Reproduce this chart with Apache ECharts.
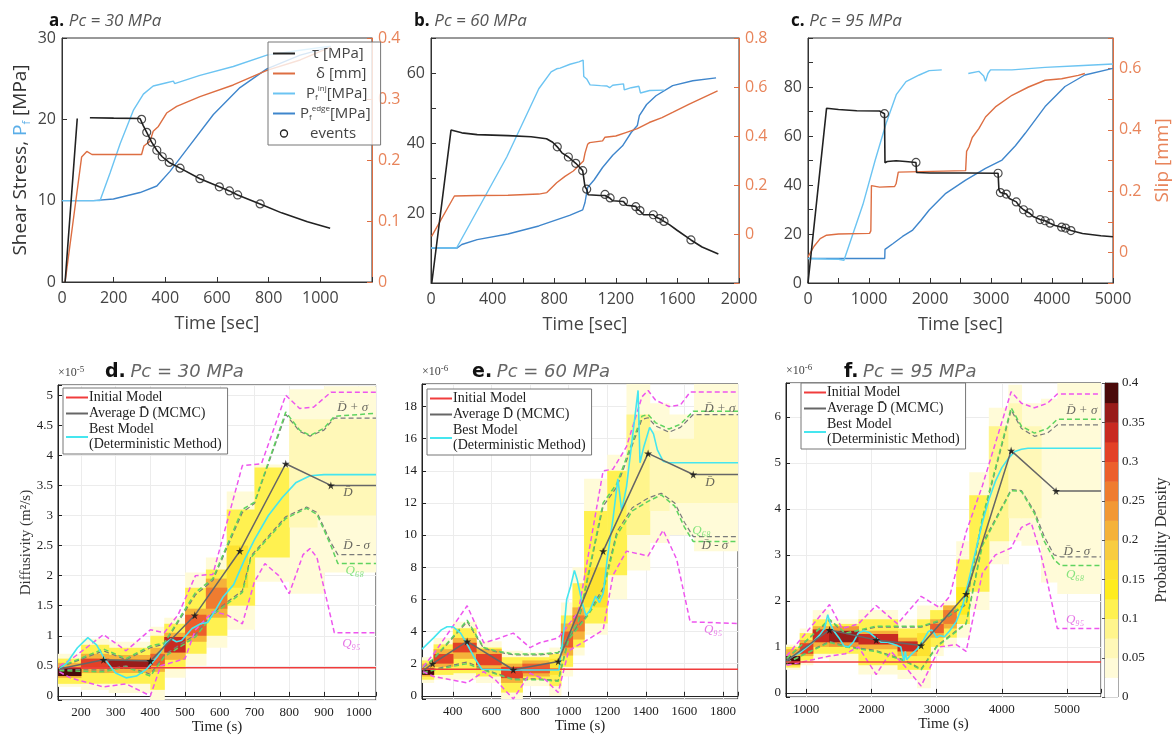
<!DOCTYPE html>
<html><head><meta charset="utf-8">
<script src="https://cdn.jsdelivr.net/npm/echarts@6/dist/echarts.min.js"></script>
<style>html,body{margin:0;padding:0;background:#fff}#c{width:1173px;height:736px}</style>
</head><body><div id="c"></div>
<script>
// ================= DATA =================
// --- panel a (Pc = 30 MPa) ---
const tauA   = [[12,0],[59,20.1],[80,'-'],[108,20.2],[200,20.15],[302,20.1],[308,20.0],[315,19.2],[328,18.4],[347,17.2],[367,16.2],[388,15.4],[415,14.7],[457,14.0],[534,12.7],[609,11.7],[648,11.2],[680,10.7],[767,9.6],[850,8.5],[950,7.4],[1038,6.6]];
const evA    = [[308,20.0],[328,18.4],[347,17.2],[367,16.2],[388,15.4],[415,14.7],[457,14.0],[534,12.7],[609,11.7],[648,11.2],[680,10.7],[767,9.6]];
const slipA  = [[12,0],[76,0.205],[96,0.214],[116,0.209],[308,0.209],[317,0.223],[341,0.231],[353,0.247],[373,0.255],[405,0.277],[444,0.288],[534,0.304],[663,0.323],[793,0.347],[922,0.364],[1040,0.385]];
const pinjA  = [[0,10],[147,10],[186,13.4],[225,17.0],[276,21.1],[315,23.1],[353,24.1],[405,24.5],[431,24.7],[436,24.4],[534,25.4],[663,26.5],[793,27.9],[922,28.5],[1040,29.0]];
const pedgeA = [[0,10],[121,10],[199,10.2],[302,11.0],[367,11.8],[418,13.6],[483,16.3],[586,20.6],[689,23.9],[793,26.2],[922,27.9],[1040,28.9]];
// --- panel b (Pc = 60 MPa) ---
const tauB   = [[5,0],[130,43.7],[200,42.9],[300,42.4],[500,42.1],[650,41.8],[750,41.2],[790,40.2],[820,38.9],[850,37.2],[892,36.0],[940,34.2],[985,32.1],[995,31.8],[1000,27.5],[1011,26.8],[1020,25.2],[1100,25.0],[1130,25.0],[1140,24.6],[1163,24.2],[1180,23.5],[1250,23.3],[1270,22.2],[1330,21.9],[1340,21.0],[1357,20.6],[1380,19.5],[1444,19.5],[1460,18.8],[1483,18.4],[1513,17.6],[1550,16.6],[1600,15.0],[1688,12.3],[1760,10.3],[1866,8.3]];
const evB    = [[820,38.9],[892,36.0],[940,34.2],[985,32.1],[1011,26.8],[1130,25.3],[1163,24.3],[1250,23.3],[1330,21.8],[1357,20.7],[1444,19.5],[1483,18.4],[1513,17.6],[1688,12.3]];
const slipB  = [[4,-0.01],[152,0.155],[300,0.157],[500,0.158],[700,0.163],[752,0.169],[816,0.209],[870,0.235],[924,0.257],[990,0.298],[1000,0.33],[1017,0.366],[1030,0.373],[1114,0.38],[1130,0.395],[1200,0.4],[1265,0.414],[1340,0.43],[1417,0.455],[1500,0.475],[1569,0.496],[1677,0.53],[1861,0.584]];
const pinjB  = [[0,10],[166,10],[492,36],[700,55.5],[780,60.3],[816,61.2],[838,61.4],[903,62.5],[960,63.2],[988,63.7],[992,59],[1011,58.3],[1033,56.6],[1100,56.4],[1141,56.3],[1160,55.8],[1180,56.5],[1250,56.9],[1255,55.2],[1300,55.8],[1350,56.2],[1360,54.3],[1420,55.0],[1515,55.1]];
const pedgeB = [[0,10],[170,10],[200,11],[300,12.4],[500,14.0],[700,16.3],[900,19.3],[985,20.9],[1000,23],[1017,27.3],[1060,29.5],[1114,33],[1180,36.5],[1244,39.2],[1300,43],[1340,45],[1353,47.8],[1400,51],[1461,53.5],[1569,56.4],[1700,57.8],[1851,58.6]];
// --- panel c (Pc = 95 MPa) ---
const tauC   = [[0,0],[304,71.3],[500,70.8],[800,70.3],[1172,70.2],[1254,69.1],[1262,49.1],[1300,49.6],[1444,49.9],[1600,49.6],[1770,49.2],[1780,45.1],[2000,44.9],[2600,44.9],[3072,44.8],[3116,44.8],[3130,38],[3154,36.9],[3252,36.3],[3300,34.5],[3415,33.1],[3460,31.5],[3534,29.9],[3626,28.6],[3700,27],[3805,25.9],[3887,25.4],[3968,24.4],[4050,23.5],[4158,22.8],[4223,22.4],[4310,21.4],[4500,20.2],[4800,19.3],[4999,18.9]];
const evC    = [[1254,69.1],[1770,49.2],[3116,44.8],[3154,36.9],[3252,36.3],[3415,33.1],[3534,29.9],[3626,28.6],[3805,25.9],[3887,25.4],[3968,24.4],[4158,22.8],[4223,22.4],[4310,21.4]];
const slipC  = [[0,-0.015],[100,0.02],[200,0.045],[304,0.056],[500,0.06],[1009,0.062],[1030,0.07],[1040,0.218],[1172,0.213],[1420,0.215],[1444,0.224],[1470,0.225],[1480,0.262],[2584,0.267],[2600,0.33],[2640,0.345],[2693,0.375],[2801,0.404],[2910,0.442],[3072,0.475],[3344,0.513],[3615,0.54],[3887,0.562],[4158,0.567],[4430,0.578],[4538,0.584]];
const pinjC  = [[0,10],[300,9.8],[500,9.7],[590,9.3],[602,10.1],[900,32],[1100,50],[1281,65.2],[1450,77],[1607,82.2],[1824,84.9],[1987,86.7],[2193,87],[2200,'-'],[2628,85.5],[2801,86.4],[2880,84.5],[2910,82.3],[2950,85.5],[2992,87],[3344,87],[3887,88],[4430,88.7],[4999,89.4]];
const pedgeC = [[0,10],[1258,10],[1262,13.7],[1390,16],[1550,19],[1716,21.6],[1850,25.5],[1987,29.8],[2259,36.6],[2584,42],[2910,46.8],[3181,50.2],[3400,56],[3561,61.1],[3887,72],[4213,80.2],[4538,84.9],[4999,87.6]];

// --- panel d (x1e-5 m^2/s) ---
const initD = [[134,0.47],[1050,0.47]];
const avgD  = [[140,0.45],[265,0.6],[400,0.58],[528,1.34],[658,2.41],[790,3.86],[920,3.5],[1050,3.5]];
const bestD = [[138,0.45],[160,0.55],[190,0.8],[220,0.97],[245,0.85],[270,0.6],[300,0.38],[330,0.3],[360,0.33],[390,0.45],[420,0.65],[445,0.88],[460,0.95],[475,0.9],[490,0.92],[520,1.12],[545,1.2],[565,1.22],[590,1.45],[610,1.65],[640,1.85],[670,2.25],[700,2.6],[740,3.0],[780,3.3],[820,3.55],[860,3.66],[900,3.68],[1050,3.68]];
const q95uD = [[138,0.5],[170,0.6],[265,1.02],[330,0.75],[400,1.1],[440,1.05],[480,1.35],[530,2.0],[580,2.02],[665,3.83],[720,3.86],[790,5.0],[830,4.78],[870,4.8],[920,5.05],[1050,5.05]];
const q95lD = [[138,0.4],[170,0.3],[200,0.25],[265,0.15],[330,0.2],[400,0.0],[430,0.5],[500,0.62],[530,1.1],[580,1.4],[620,1.35],[665,1.2],[700,1.9],[730,2.2],[770,2.0],[800,1.7],[840,2.35],[860,2.45],[880,2.3],[930,1.05],[1050,1.05]];
const q68uD = [[138,0.48],[265,0.78],[330,0.62],[400,0.83],[440,0.88],[530,1.72],[580,1.95],[665,3.1],[700,3.22],[790,4.72],[830,4.42],[860,4.33],[900,4.45],[930,4.65],[1050,4.7]];
const q68lD = [[138,0.42],[265,0.4],[330,0.48],[400,0.33],[440,0.65],[530,0.98],[580,1.35],[665,1.72],[690,2.3],[790,2.95],[850,3.12],[880,3.02],[920,2.5],[940,2.2],[1050,2.2]];
const sigUD = [[138,0.47],[265,0.75],[330,0.6],[400,0.8],[440,0.86],[530,1.68],[580,1.92],[665,3.05],[700,3.2],[790,4.68],[830,4.4],[860,4.32],[900,4.42],[930,4.62],[1050,4.62]];
const sigLD = [[138,0.44],[265,0.43],[330,0.5],[400,0.36],[440,0.68],[530,1.02],[580,1.38],[665,1.75],[690,2.33],[790,2.98],[850,3.14],[880,3.05],[920,2.55],[940,2.35],[1050,2.35]];
// density blocks [x0, x1, y0, y1, density]
const heatD = [
 [134,200,0.15,0.7,0.04],[200,280,0.1,0.95,0.04],[280,400,0.05,0.9,0.04],[400,440,-0.1,1.15,0.04],[440,500,0.3,1.3,0.04],[500,560,0.5,2.05,0.04],[560,620,0.8,2.3,0.04],[620,700,1.1,3.4,0.04],[700,800,1.9,3.85,0.04],[800,900,1.7,5.1,0.04],[900,1050,2.05,5.15,0.03],
 [134,200,0.2,0.62,0.12],[200,280,0.2,0.85,0.12],[280,400,0.2,0.8,0.12],[400,440,0.1,1.0,0.12],[440,500,0.45,1.2,0.12],[500,560,0.7,1.8,0.12],[560,620,1.0,2.1,0.12],[620,700,1.5,3.1,0.12],[700,800,2.3,3.8,0.1],[800,880,2.8,4.6,0.07],[880,1050,3.0,4.6,0.05],
 [134,200,0.3,0.55,0.2],[200,280,0.38,0.7,0.2],[280,400,0.38,0.68,0.2],[400,440,0.4,0.8,0.2],[440,500,0.6,1.05,0.22],[500,560,0.9,1.45,0.22],[560,620,1.3,1.95,0.2],[620,680,1.8,2.5,0.16],
 [134,200,0.33,0.48,0.38],[200,280,0.45,0.62,0.3],[280,400,0.45,0.6,0.36],[400,440,0.5,0.7,0.28],[440,500,0.72,0.98,0.34],[500,560,1.0,1.35,0.28],[560,620,1.45,1.8,0.26]
];
const annD = [[983,4.8,'D\u0304 + σ','#444'],[969,3.38,'D\u0304','#444'],[994,2.5,'D\u0304 - σ','#444'],[989,2.08,'Q₆₈','#66dd66'],[979,0.87,'Q₉₅','#e055e0']];

// --- panel e (x1e-6 m^2/s) ---
const initE = [[240,1.65],[1878,1.65]];
const avgE  = [[245,1.55],[295,2.0],[474,3.38],[713,1.62],[946,2.14],[1179,9.0],[1412,15.08],[1646,13.77],[1878,13.77]];
const bestE = [[240,2.9],[300,3.6],[340,4.1],[370,4.3],[400,4.3],[440,3.9],[470,3.3],[510,2.4],[550,1.65],[700,1.6],[950,1.6],[975,4.0],[990,6.0],[1010,6.8],[1030,7.8],[1045,7.2],[1070,5.8],[1090,5.0],[1110,5.3],[1140,6.2],[1160,5.8],[1180,6.4],[1200,8.5],[1230,11.0],[1255,13.5],[1275,11.5],[1300,13.0],[1320,15.0],[1340,17.0],[1360,19.0],[1370,14.5],[1390,15.5],[1420,16.7],[1440,16.3],[1460,15.3],[1490,14.6],[1520,14.5],[1878,14.5]];
const q95uE = [[245,1.8],[300,2.6],[474,5.6],[560,3.3],[620,3.5],[713,3.9],[800,3.0],[850,3.3],[946,3.6],[1050,5.2],[1179,14.0],[1230,14.1],[1300,15.5],[1380,18.6],[1412,19.0],[1450,18.4],[1520,18.0],[1580,18.1],[1630,18.9],[1878,18.9]];
const q95lE = [[245,1.5],[300,1.2],[474,0.8],[560,1.5],[620,1.0],[713,-0.2],[800,1.4],[880,1.0],[946,0.2],[1000,2.8],[1100,3.5],[1179,4.1],[1230,7.5],[1300,9.0],[1412,8.7],[1490,10.3],[1560,8.5],[1630,4.6],[1878,4.5]];
const q68uE = [[245,1.8],[300,2.3],[474,4.7],[560,3.0],[620,2.8],[713,2.6],[850,2.6],[946,2.7],[1050,4.6],[1179,12.0],[1250,13.2],[1380,17.4],[1412,17.5],[1450,17.0],[1520,16.6],[1580,16.9],[1646,17.7],[1878,17.7]];
const q68lE = [[245,1.4],[300,1.6],[474,2.0],[560,1.6],[713,1.0],[850,1.0],[946,0.9],[1000,3.5],[1100,5.0],[1179,6.5],[1250,10.0],[1330,11.5],[1412,12.1],[1480,12.5],[1550,11.8],[1600,10.5],[1646,9.6],[1878,9.6]];
const sigUE = [[245,1.75],[300,2.25],[474,4.6],[560,2.95],[620,2.75],[713,2.55],[850,2.55],[946,2.65],[1050,4.5],[1179,11.8],[1250,13.0],[1380,17.2],[1412,17.3],[1450,16.8],[1520,16.4],[1580,16.7],[1646,17.5],[1878,17.5]];
const sigLE = [[245,1.45],[300,1.65],[474,2.1],[560,1.65],[713,1.05],[850,1.05],[946,0.95],[1000,3.6],[1100,5.1],[1179,6.7],[1250,10.2],[1330,11.7],[1412,12.3],[1480,12.6],[1550,12.0],[1600,10.8],[1646,9.9],[1878,9.9]];
const heatE = [
 [240,300,0.8,2.4,0.04],[300,400,1.0,3.6,0.04],[400,520,1.0,4.6,0.04],[520,650,0.8,3.4,0.04],[650,760,-0.2,2.8,0.04],[760,900,0.6,2.7,0.04],[900,960,0.0,3.0,0.04],[960,1020,1.2,5.8,0.04],[1020,1080,2.5,8.0,0.04],[1080,1200,3.8,13.5,0.04],[1200,1300,6.0,15.0,0.04],[1300,1420,7.8,19.4,0.04],[1420,1520,9.5,18.2,0.04],[1520,1650,10.0,17.5,0.03],[1650,1878,9.0,19.4,0.03],
 [240,300,1.0,2.2,0.12],[300,400,1.3,3.2,0.12],[400,520,1.4,4.2,0.12],[520,650,1.2,3.0,0.12],[650,760,0.2,2.4,0.12],[760,900,1.0,2.4,0.12],[900,960,0.6,2.6,0.12],[960,1020,1.8,5.0,0.12],[1020,1080,3.0,7.0,0.12],[1080,1200,4.5,11.5,0.11],[1200,1300,7.5,14.0,0.11],[1300,1420,10.0,17.5,0.09],[1420,1520,11.5,16.5,0.07],[1520,1650,12,16,0.05],[1650,1878,12,17.5,0.05],
 [240,300,1.2,2.0,0.2],[300,400,1.8,2.9,0.2],[400,520,2.3,3.6,0.2],[520,650,1.6,2.9,0.2],[650,760,0.8,2.0,0.22],[760,900,1.2,2.2,0.2],[900,960,1.3,2.3,0.16],[960,1020,2.5,4.5,0.2],[1020,1080,3.5,5.5,0.2],[1080,1200,5.5,8.0,0.15],
 [240,300,1.3,1.7,0.38],[300,400,2.0,2.6,0.3],[400,520,2.7,3.3,0.3],[520,650,1.9,2.6,0.3],[650,760,1.1,1.8,0.32],[760,900,1.4,2.0,0.28],[960,1020,3.0,4.0,0.28],[1020,1080,4.0,5.0,0.26]
];
const annE = [[1784,17.9,'D\u0304 + σ','#444'],[1732,13.25,'D\u0304','#444'],[1689,10.3,'Q₆₈','#66dd66'],[1758,9.35,'D\u0304 - σ','#444'],[1749,4.1,'Q₉₅','#e055e0']];

// --- panel f (x1e-6 m^2/s) ---
const initF = [[690,0.67],[5520,0.67]];
const avgF  = [[700,0.7],[1357,1.37],[2073,1.15],[2762,1.03],[3452,2.15],[4142,5.27],[4831,4.39],[5520,4.39]];
const bestF = [[700,0.7],[800,0.8],[900,0.87],[1000,0.98],[1100,1.1],[1200,1.25],[1280,1.4],[1330,1.7],[1370,1.5],[1420,1.35],[1500,1.2],[1580,1.02],[1650,1.0],[1720,1.1],[1800,1.3],[1880,1.35],[1960,1.32],[2050,1.22],[2150,1.1],[2250,1.1],[2350,1.05],[2450,1.0],[2480,0.8],[2500,0.7],[2520,0.9],[2540,0.72],[2600,0.82],[2700,0.95],[2800,1.15],[2870,1.33],[2920,1.37],[2960,1.3],[3000,1.2],[3050,1.25],[3120,1.22],[3200,1.35],[3300,1.55],[3400,1.9],[3500,2.5],[3600,3.1],[3700,3.7],[3800,4.2],[3900,4.6],[4000,4.9],[4100,5.1],[4200,5.25],[4300,5.3],[4400,5.32],[5520,5.32]];
const q95uF = [[700,0.8],[1357,1.92],[1550,1.4],[1800,1.5],[2073,1.9],[2400,1.5],[2762,2.1],[3050,1.85],[3200,2.1],[3452,3.5],[3700,4.5],[4142,6.55],[4300,6.3],[4500,6.2],[4700,6.3],[4850,6.5],[5520,6.5]];
const q95lF = [[700,0.6],[1357,0.8],[1600,0.85],[1800,1.0],[2073,0.4],[2300,0.9],[2500,0.6],[2762,0.15],[3050,1.0],[3300,1.05],[3452,0.9],[3700,2.6],[3900,3.0],[4142,3.15],[4300,3.6],[4450,3.7],[4600,3.0],[4700,2.4],[4850,1.4],[5520,1.4]];
const q68uF = [[700,0.75],[1357,1.6],[1600,1.3],[2073,1.45],[2762,1.45],[3100,1.6],[3452,1.95],[3700,3.8],[4142,6.2],[4300,5.8],[4500,5.65],[4700,5.75],[4850,5.95],[5520,5.95]];
const q68lF = [[700,0.65],[1357,1.1],[1600,1.0],[2073,0.9],[2500,0.7],[2762,0.5],[3000,1.0],[3452,1.5],[3700,3.2],[4142,4.4],[4300,4.38],[4500,3.9],[4650,3.3],[4800,2.9],[4900,2.77],[5520,2.77]];
const sigUF = [[700,0.74],[1357,1.58],[1600,1.28],[2073,1.43],[2762,1.43],[3100,1.58],[3452,1.92],[3700,3.75],[4142,6.15],[4300,5.75],[4500,5.58],[4700,5.65],[4850,5.83],[5520,5.83]];
const sigLF = [[700,0.66],[1357,1.12],[1600,1.02],[2073,0.92],[2500,0.72],[2762,0.52],[3000,1.02],[3452,1.52],[3700,3.25],[4142,4.42],[4300,4.4],[4500,3.95],[4650,3.4],[4800,3.0],[4900,2.96],[5520,2.96]];
const heatF = [
 [690,900,0.5,1.05,0.04],[900,1100,0.6,1.4,0.04],[1100,1350,0.75,1.8,0.04],[1350,1800,0.7,1.6,0.04],[1800,2400,0.4,1.8,0.04],[2400,2700,0.3,1.6,0.04],[2700,2900,0.1,1.9,0.04],[2900,3100,0.8,1.9,0.04],[3100,3300,1.0,2.0,0.04],[3300,3500,1.2,3.3,0.04],[3500,3800,1.8,4.8,0.04],[3800,4100,2.8,6.2,0.04],[4100,4300,3.3,6.7,0.04],[4300,4600,3.2,6.3,0.04],[4600,4850,2.4,6.4,0.03],[4850,5520,2.15,6.74,0.03],
 [690,900,0.55,1.0,0.12],[900,1100,0.7,1.3,0.12],[1100,1350,0.85,1.6,0.12],[1350,1800,0.85,1.5,0.12],[1800,2400,0.6,1.6,0.12],[2400,2700,0.5,1.4,0.12],[2700,2900,0.5,1.6,0.12],[2900,3100,1.0,1.8,0.12],[3100,3300,1.2,1.9,0.12],[3300,3500,1.5,2.9,0.11],[3500,3800,2.2,4.3,0.1],[3800,4100,3.3,5.8,0.08],[4100,4300,3.8,6.3,0.06],[4300,4600,3.8,5.8,0.05],
 [690,900,0.6,0.95,0.22],[900,1100,0.8,1.15,0.22],[1100,1350,1.0,1.45,0.22],[1350,1800,1.0,1.45,0.24],[1800,2400,0.95,1.35,0.22],[2400,2700,0.8,1.2,0.22],[2700,2900,0.8,1.3,0.16],[2900,3100,1.2,1.6,0.22],[3100,3300,1.4,1.9,0.2],[3300,3500,1.7,2.3,0.14],
 [690,900,0.62,0.8,0.38],[900,1100,0.85,1.08,0.3],[1100,1350,1.1,1.38,0.33],[1350,1800,1.1,1.35,0.36],[1800,2400,1.05,1.28,0.33],[2400,2700,0.9,1.12,0.34],[2900,3100,1.3,1.5,0.28],[3100,3300,1.5,1.8,0.27]
];
const annF = [[5225,6.15,'D\u0304 + σ','#444'],[5148,3.07,'D\u0304 - σ','#444'],[5123,2.57,'Q₆₈','#66dd66'],[5123,1.59,'Q₉₅','#e055e0']];

// colour bar levels
const cbLevels = [0,0.025,0.05,0.075,0.1,0.125,0.15,0.175,0.2,0.225,0.25,0.275,0.3,0.325,0.35,0.375,0.4];

// ================= STYLE =================
const SANS = "'Open Sans','Noto Sans',sans-serif";
const SERIF = "'Liberation Serif','DejaVu Serif',serif";
const VERD = "'DejaVu Sans',Verdana,sans-serif";
const palette = ['#ffffff','#fffbd8','#fff8b8','#fff58c','#fff150','#ffec1e','#fde230','#f8cc40','#f5b23a','#f29834','#ef7c30','#ec5f2c','#e34127','#c82a22','#981c1a','#4a0a0a'];
function colorOf(v){ let i=Math.floor(v/0.025+1e-9); if(i<0)i=0; if(i>15)i=15; return palette[i]; }
const cOr='#dd6e42', cOrL='#e8845a', cInj='#6cc4f2', cEdge='#3f86cc', cK='#222';
const cRed='#f03c3c', cAvg='#666', cSig='#7a7a7a', cCyan='#45e6ef', cGreen='#5fd35f', cMag='#ee55ee';

function fmtEvery(step, lo, hi){
  return function(v){
    const k=v/step; if(Math.abs(k-Math.round(k))>1e-6) return '';
    if(v<lo-1e-9||v>hi+1e-9) return '';
    return String(+v.toFixed(3));
  };
}
function topX(gi,max,interval,labStep){
  return {gridIndex:gi,type:'value',min:0,max:max,interval:interval,
    axisLine:{show:true,lineStyle:{color:'#333',width:1}},
    axisTick:{inside:true,length:5,lineStyle:{color:'#333'}},
    axisLabel:{formatter:fmtEvery(labStep,0,max===1200?1000:max),fontSize:16,color:'#444',fontFamily:SANS,margin:8},
    splitLine:{show:false},
    name:'Time [sec]',nameLocation:'middle',nameGap:33,nameTextStyle:{fontSize:18,color:'#444',fontFamily:SANS}};
}
function topY(gi,min,max,interval,fmt,right,extra){
  const col=right?cOr:'#333', lab=right?cOrL:'#444';
  return Object.assign({gridIndex:gi,type:'value',min:min,max:max,interval:interval,position:right?'right':'left',
    axisLine:{show:true,lineStyle:{color:col,width:1}},
    axisTick:{show:true,inside:true,length:5,lineStyle:{color:col}},
    axisLabel:{formatter:fmt,fontSize:16,color:lab,fontFamily:SANS,margin:6},
    splitLine:{show:false}},extra||{});
}
function botX(gi,min,max,split,step){
  return {gridIndex:gi,type:'value',min:min,max:max,splitNumber:split,
    axisLine:{show:true,lineStyle:{color:'#222'}},
    axisTick:{inside:true,length:4,lineStyle:{color:'#222'}},
    axisLabel:{formatter:fmtEvery(step,min+1e-6,max-1e-6),fontSize:13,color:'#222',fontFamily:SERIF,margin:6},
    splitLine:{show:true,lineStyle:{color:'#ececec',width:1}},
    name:'Time (s)',nameLocation:'middle',nameGap:18,nameTextStyle:{fontSize:15,color:'#222',fontFamily:SERIF}};
}
function botY(gi,min,max,split,step,exp){
  return {gridIndex:gi,type:'value',min:min,max:max,splitNumber:split,
    axisLine:{show:true,lineStyle:{color:'#222'}},
    axisTick:{inside:true,length:4,lineStyle:{color:'#222'}},
    axisLabel:{formatter:fmtEvery(step,min+1e-6,max-1e-6),fontSize:13,color:'#222',fontFamily:SERIF,margin:5},
    splitLine:{show:true,lineStyle:{color:'#ececec',width:1}},
    name:'{a|×10}{s|'+exp+'}',nameLocation:'end',nameGap:6,
    nameTextStyle:{align:'left',rich:{a:{fontSize:12,fontFamily:SERIF,color:'#444',verticalAlign:'bottom',lineHeight:14},s:{fontSize:9,fontFamily:SERIF,color:'#444',verticalAlign:'top',lineHeight:14}}}};
}
function line(name,xi,yi,data,color,width,dash,z){
  return {type:'line',name:name,xAxisIndex:xi,yAxisIndex:yi,data:data,symbol:'none',showSymbol:false,
    connectNulls:false,silent:true,z:z||3,
    lineStyle:{color:color,width:width,type:dash?[5,3]:'solid'},itemStyle:{color:color}};
}
function events(xi,yi,data){
  return {type:'scatter',name:'events',xAxisIndex:xi,yAxisIndex:yi,data:data,symbol:'circle',symbolSize:8,z:5,
    itemStyle:{color:'rgba(255,255,255,0)',borderColor:'#222',borderWidth:1.2}};
}
function heat(xi,yi,data){
  return {type:'custom',xAxisIndex:xi,yAxisIndex:yi,data:data,clip:true,z:1,silent:true,
    encode:{x:[0,1],y:[2,3]},
    renderItem:function(params,api){
      const p0=api.coord([api.value(0),api.value(3)]);
      const p1=api.coord([api.value(1),api.value(2)]);
      return {type:'rect',shape:{x:p0[0],y:p0[1],width:p1[0]-p0[0]+0.6,height:p1[1]-p0[1]},style:{fill:colorOf(api.value(4))}};
    }};
}
const starPath='path://M50,0 L61,35 L98,35 L68,57 L79,91 L50,70 L21,91 L32,57 L2,35 L39,35 Z';
function stars(xi,yi,data){
  return {type:'scatter',xAxisIndex:xi,yAxisIndex:yi,data:data.slice(1,-1),symbol:starPath,symbolSize:8,z:6,silent:true,
    itemStyle:{color:'#111'}};
}
function ann(xi,yi,list){
  return {type:'scatter',xAxisIndex:xi,yAxisIndex:yi,symbolSize:1,z:7,silent:true,itemStyle:{color:'rgba(0,0,0,0)'},
    data:list.map(a=>({value:[a[0],a[1]],label:{show:true,position:'inside',formatter:a[2],color:a[3],fontFamily:SERIF,fontStyle:'italic',fontSize:13}}))};
}
const NM_INIT='Initial Model', NM_AVG='Average D\u0304 (MCMC)', NM_BEST='Best Model\n(Deterministic Method)';
function bottomSeries(xi,yi,H,init,avg,best,q95u,q95l,q68u,q68l,su,sl,an){
  return [heat(xi,yi,H),
    line('sigU',xi,yi,su,cSig,1.2,true,3), line('sigL',xi,yi,sl,cSig,1.2,true,3),
    line('q68u',xi,yi,q68u,cGreen,1.5,true,4), line('q68l',xi,yi,q68l,cGreen,1.5,true,4),
    line('q95u',xi,yi,q95u,cMag,1.5,true,4), line('q95l',xi,yi,q95l,cMag,1.5,true,4),
    line(NM_INIT,xi,yi,init,cRed,1.5,false,4),
    line(NM_BEST,xi,yi,best,cCyan,1.6,false,5),
    line(NM_AVG,xi,yi,avg,cAvg,1.5,false,5),
    stars(xi,yi,avg), ann(xi,yi,an)];
}
function botLegend(left,top){
  return {show:true,data:[NM_INIT,NM_AVG,NM_BEST],orient:'vertical',left:left,top:top,itemWidth:22,itemHeight:8,itemGap:1,
    padding:[2,6,2,2],backgroundColor:'#fff',borderColor:'#777',borderWidth:1,selectedMode:false,
    itemStyle:{opacity:0},
    textStyle:{fontFamily:SERIF,fontSize:14,color:'#222',lineHeight:15,padding:[0,0,0,-4]}};
}
function ttl(letter,txt,left,top,big){
  const fam=big?VERD:SANS, fs=big?18:17;
  return {text:'{b|'+letter+'} {i|'+txt+'}',left:left,top:top,
    textStyle:{fontWeight:'normal',rich:{b:{fontWeight:'bold',fontSize:big?19:17,color:'#111',fontFamily:fam},
      i:{fontWeight:'normal',fontStyle:'italic',fontSize:fs,color:big?'#666':'#555',fontFamily:fam}}}};
}

const legA = {
  'τ [MPa]':'{sp1|}{n|τ [MPa]}',
  'δ [mm]':'{sp2|}{n|δ [mm]}',
  'Pinj':'{sp3|}{n|P}{sb|f}{sup|inj}{n|[MPa]}',
  'Pedge':'{n|P}{sb|f}{sup|edge}{n|[MPa]}',
  'events':'{sp4|}{n|events}'
};

const option = {
  animation:false,
  backgroundColor:'#fff',
  textStyle:{fontFamily:SANS},
  title:[
    ttl('a.','Pc = 30 MPa',44,7,false),
    ttl('b.','Pc = 60 MPa',409,7,false),
    ttl('c.','Pc = 95 MPa',786,7,false),
    ttl('d.','Pc = 30 MPa',100,358,true),
    ttl('e.','Pc = 60 MPa',467,358,true),
    ttl('f.','Pc = 95 MPa',839,358,true)
  ],
  grid:[
    {left:62,top:38,width:310,height:244,show:true,borderColor:'#333',borderWidth:1},
    {left:431,top:38,width:308,height:245,show:true,borderColor:'#333',borderWidth:1},
    {left:808,top:38,width:308,height:245,show:true,borderColor:'#333',borderWidth:1},
    {left:58,top:385,width:318,height:317,show:true,borderColor:'#222',borderWidth:1},
    {left:422,top:384,width:316,height:315,show:true,borderColor:'#222',borderWidth:1},
    {left:786,top:383,width:315,height:314,show:true,borderColor:'#222',borderWidth:1},
    {left:1105,top:383,width:13,height:314,show:true,borderColor:'#555',borderWidth:1}
  ],
  xAxis:[
    topX(0,1200,200,200), topX(1,2000,200,400), topX(2,5000,500,1000),
    botX(3,134,1050,9,100), botX(4,240,1878,8,200), botX(5,690,5520,5,1000),
    {gridIndex:6,type:'value',min:0,max:1,show:false}
  ],
  yAxis:[
    topY(0,0,30,10,fmtEvery(10,0,30),false,{
      name:'{g|Shear Stress, }{b|P}{bs|f}{g| [MPa]}',nameLocation:'middle',nameRotate:90,nameGap:30,
      nameTextStyle:{rich:{g:{fontSize:19,color:'#333',fontFamily:SANS},b:{fontSize:19,color:'#5aaee8',fontFamily:SANS},bs:{fontSize:11,color:'#5aaee8',fontFamily:SANS,verticalAlign:'bottom',lineHeight:22}}}}),
    topY(0,0,0.4,0.1,fmtEvery(0.1,0,0.4),true),
    topY(1,0,70,10,fmtEvery(20,20,60),false),
    topY(1,-0.2,0.8,0.2,fmtEvery(0.2,0,0.8),true),
    topY(2,0,100,10,fmtEvery(20,0,80),false),
    topY(2,-0.1,0.7,0.1,fmtEvery(0.2,0,0.6),true,{
      name:'Slip [mm]',nameLocation:'middle',nameRotate:90,nameGap:40,
      nameTextStyle:{fontSize:19,color:cOrL,fontFamily:SANS}}),
    botY(3,-0.07,5.17,10,0.5,'-5'),
    botY(4,-0.2,19.4,10,2,'-6'),
    botY(5,-0.09,6.74,7,1,'-6'),
    {gridIndex:6,type:'value',min:0,max:0.4,interval:0.05,position:'right',
      axisLine:{show:true,lineStyle:{color:'#555'}},axisTick:{show:true,inside:true,length:3,lineStyle:{color:'#555'}},
      axisLabel:{formatter:v=>String(+v.toFixed(3)),fontSize:13,color:'#222',fontFamily:SERIF,margin:4},
      splitLine:{show:false},
      name:'Probability Density',nameLocation:'middle',nameRotate:90,nameGap:36,
      nameTextStyle:{fontSize:16,color:'#333',fontFamily:SERIF}},
    {gridIndex:3,type:'value',min:-0.07,max:5.17,position:'left',
      axisLine:{show:false},axisTick:{show:false},axisLabel:{show:false},splitLine:{show:false},
      name:'Diffusivity (m²/s)',nameLocation:'middle',nameRotate:90,nameGap:24,
      nameTextStyle:{fontSize:15,color:'#333',fontFamily:SERIF}}
  ],
  legend:[
    {show:true,data:[{name:'τ [MPa]'},{name:'δ [mm]'},{name:'Pinj'},{name:'Pedge'},
        {name:'events',icon:'circle',itemStyle:{opacity:1,color:'rgba(255,255,255,0)',borderColor:'#222',borderWidth:1.3}}],
      orient:'vertical',left:268,top:42,itemWidth:22,itemHeight:7,itemGap:3,padding:[3,10,3,4],
      backgroundColor:'rgba(255,255,255,0.8)',borderColor:'#777',borderWidth:1,selectedMode:false,
      itemStyle:{opacity:0},
      formatter:n=>legA[n]||n,
      textStyle:{color:'#444',fontFamily:SANS,fontSize:15,lineHeight:17,rich:{
        n:{fontSize:15,color:'#444',fontFamily:SANS,lineHeight:17},
        sb:{fontSize:8,color:'#444',verticalAlign:'bottom',lineHeight:17},
        sup:{fontSize:8,color:'#444',verticalAlign:'top',lineHeight:17},
        sp1:{width:12},sp2:{width:16},sp3:{width:6},sp4:{width:10}}}},
    botLegend(63,388), botLegend(427,389), botLegend(801,383)
  ],
  series:[
    // panel a
    line('Pedge',0,0,pedgeA,cEdge,1.4,false,3),
    line('Pinj',0,0,pinjA,cInj,1.4,false,3),
    line('δ [mm]',0,1,slipA,cOr,1.4,false,3),
    line('τ [MPa]',0,0,tauA,cK,1.6,false,4),
    events(0,0,evA),
    // panel b
    line('Pedge',1,2,pedgeB,cEdge,1.4,false,3),
    line('Pinj',1,2,pinjB,cInj,1.4,false,3),
    line('δ [mm]',1,3,slipB,cOr,1.4,false,3),
    line('τ [MPa]',1,2,tauB,cK,1.6,false,4),
    events(1,2,evB),
    // panel c
    line('Pedge',2,4,pedgeC,cEdge,1.4,false,3),
    line('Pinj',2,4,pinjC,cInj,1.4,false,3),
    line('δ [mm]',2,5,slipC,cOr,1.4,false,3),
    line('τ [MPa]',2,4,tauC,cK,1.6,false,4),
    events(2,4,evC),
    // bottom panels
    ...bottomSeries(3,6,heatD,initD,avgD,bestD,q95uD,q95lD,q68uD,q68lD,sigUD,sigLD,annD),
    ...bottomSeries(4,7,heatE,initE,avgE,bestE,q95uE,q95lE,q68uE,q68lE,sigUE,sigLE,annE),
    ...bottomSeries(5,8,heatF,initF,avgF,bestF,q95uF,q95lF,q68uF,q68lF,sigUF,sigLF,annF),
    // colour bar
    {type:'custom',xAxisIndex:6,yAxisIndex:9,silent:true,encode:{x:[0,1],y:[2,3]},
      data:cbLevels.slice(0,-1).map((lo,i)=>[0,1,lo,cbLevels[i+1],(lo+cbLevels[i+1])/2]),
      renderItem:function(params,api){
        const p0=api.coord([api.value(0),api.value(3)]);
        const p1=api.coord([api.value(1),api.value(2)]);
        return {type:'rect',shape:{x:p0[0],y:p0[1],width:p1[0]-p0[0],height:p1[1]-p0[1]+0.5},style:{fill:colorOf(api.value(4))}};
      }}
  ]
};
const chart = echarts.init(document.getElementById('c'),null,{renderer:'canvas'});
chart.setOption(option);
</script></body></html>
